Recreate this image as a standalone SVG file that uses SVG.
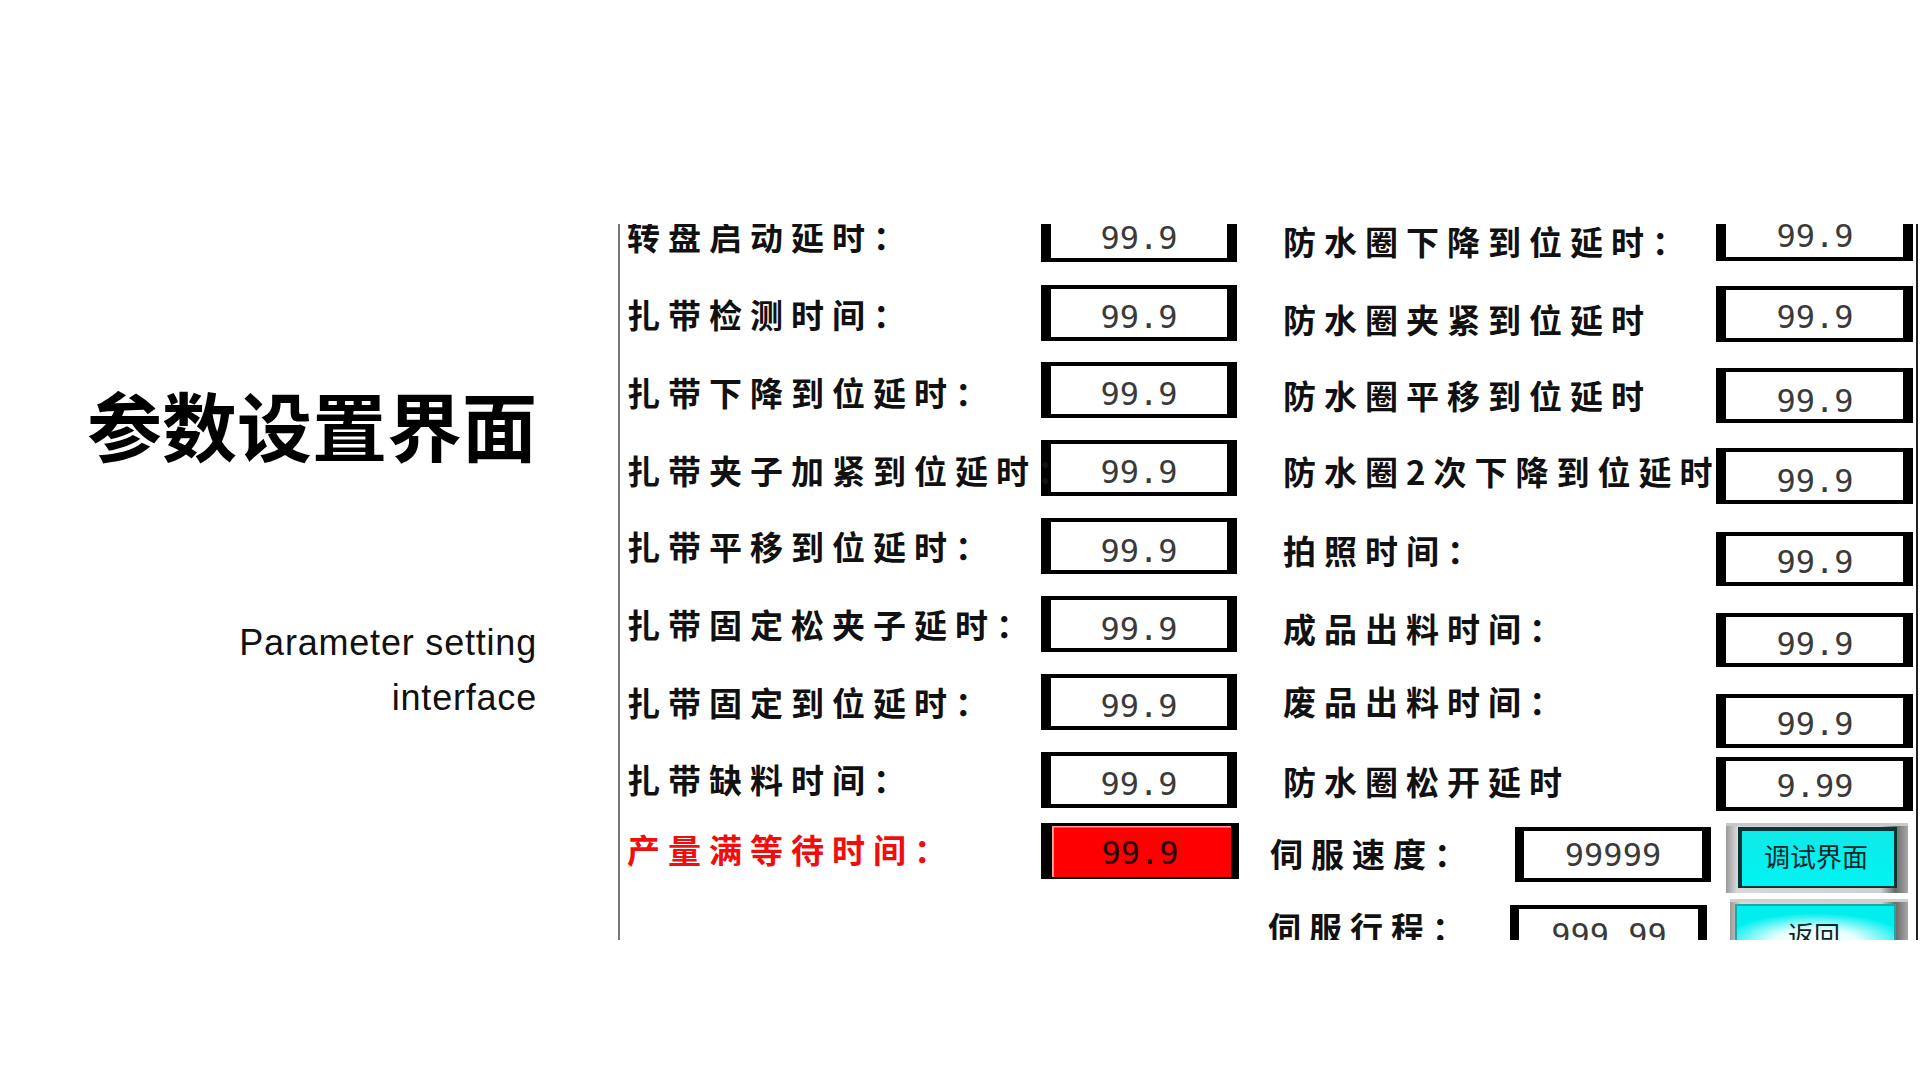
<svg xmlns="http://www.w3.org/2000/svg" width="1920" height="1080" viewBox="0 0 1920 1080">
<style>
.title{font-family:"Noto Sans CJK SC","Noto Sans",sans-serif;font-weight:700;font-size:75px;fill:#000}
.sub{font-family:"Liberation Sans",Arial,sans-serif;font-size:36px;letter-spacing:0.8px;fill:#111}
.lbl{font-family:"Noto Sans CJK SC","Noto Sans",sans-serif;font-weight:700;font-size:33px;letter-spacing:8px;fill:#111}
.red{fill:#f20d0d}
.num{font-family:"DejaVu Sans Mono","Liberation Mono",monospace;font-size:32px;fill:#3a3a3a;text-anchor:middle}
.bo{fill:#000}
.bi{fill:#fff}
.btn{font-family:"Noto Sans CJK SC","Noto Sans",sans-serif;font-size:26px;fill:#072626;text-anchor:middle}
</style>
<defs>
<clipPath id="shot"><rect x="619" y="224" width="1300" height="716"/></clipPath>
<linearGradient id="bevel" x1="0" y1="0" x2="1" y2="0">
<stop offset="0" stop-color="#9a9a9a"/>
<stop offset="0.06" stop-color="#d8d8d8"/>
<stop offset="0.85" stop-color="#d0d0d0"/>
<stop offset="0.93" stop-color="#6a6a6a"/>
<stop offset="1" stop-color="#a8a8a8"/>
</linearGradient>
<linearGradient id="cyan" x1="0" y1="0" x2="0" y2="1">
<stop offset="0" stop-color="#10e8e8"/>
<stop offset="1" stop-color="#00f4f4"/>
</linearGradient>
<radialGradient id="glow" cx="0.5" cy="0.75" r="0.6">
<stop offset="0" stop-color="#ffffff"/>
<stop offset="0.45" stop-color="#e8ffff"/>
<stop offset="1" stop-color="#00eeee"/>
</radialGradient>
</defs>
<rect width="1920" height="1080" fill="#fff"/>

<g id="title">
<text class="title" x="537" y="456" text-anchor="end">参数设置界面</text>
<text class="sub" x="537" y="655" text-anchor="end">Parameter setting</text>
<text class="sub" x="537" y="710" text-anchor="end">interface</text>
</g>

<g id="screen" clip-path="url(#shot)">
<g id="left-column">
<g id="l1"><text class="lbl" x="627" y="250">转盘启动延时：</text><rect class="bo" x="1041" y="206" width="196" height="56"/><rect class="bi" x="1051" y="210" width="176" height="48"/><text class="num" x="1139" y="249">99.9</text></g>
<g id="l2"><text class="lbl" x="627" y="328">扎带检测时间：</text><rect class="bo" x="1041" y="285" width="196" height="56"/><rect class="bi" x="1051" y="289" width="176" height="48"/><text class="num" x="1139" y="328">99.9</text></g>
<g id="l3"><text class="lbl" x="627" y="406">扎带下降到位延时：</text><rect class="bo" x="1041" y="362" width="196" height="56"/><rect class="bi" x="1051" y="366" width="176" height="48"/><text class="num" x="1139" y="405">99.9</text></g>
<g id="l4"><rect class="bo" x="1041" y="440" width="196" height="56"/><rect class="bi" x="1051" y="444" width="176" height="48"/><text class="lbl" x="627" y="484">扎带夹子加紧到位延时：</text><text class="num" x="1139" y="483">99.9</text></g>
<g id="l5"><text class="lbl" x="627" y="560">扎带平移到位延时：</text><rect class="bo" x="1041" y="518" width="196" height="56"/><rect class="bi" x="1051" y="522" width="176" height="48"/><text class="num" x="1139" y="562">99.9</text></g>
<g id="l6"><text class="lbl" x="627" y="638">扎带固定松夹子延时：</text><rect class="bo" x="1041" y="596" width="196" height="56"/><rect class="bi" x="1051" y="600" width="176" height="48"/><text class="num" x="1139" y="640">99.9</text></g>
<g id="l7"><text class="lbl" x="627" y="716">扎带固定到位延时：</text><rect class="bo" x="1041" y="674" width="196" height="56"/><rect class="bi" x="1051" y="678" width="176" height="48"/><text class="num" x="1139" y="717">99.9</text></g>
<g id="l8"><text class="lbl" x="627" y="793">扎带缺料时间：</text><rect class="bo" x="1041" y="752" width="196" height="56"/><rect class="bi" x="1051" y="756" width="176" height="48"/><text class="num" x="1139" y="795">99.9</text></g>
<g id="l9"><text class="lbl red" x="627" y="863">产量满等待时间：</text><rect class="bo" x="1041" y="823" width="198" height="56"/><rect x="1052" y="826" width="179" height="51" fill="#ff0000"/><rect x="1052" y="826" width="2" height="51" fill="#ff9a9a"/><rect x="1052" y="826" width="179" height="1.5" fill="#ff9a9a"/><text class="num" x="1140" y="864" style="fill:#200000">99.9</text></g>
</g>

<g id="right-column">
<g id="r1"><text class="lbl" x="1283" y="255">防水圈下降到位延时：</text><rect class="bo" x="1716" y="204" width="197" height="57"/><rect class="bi" x="1726" y="208" width="177" height="49"/><text class="num" x="1815" y="247">99.9</text></g>
<g id="r2"><text class="lbl" x="1283" y="333">防水圈夹紧到位延时</text><rect class="bo" x="1716" y="286" width="197" height="56"/><rect class="bi" x="1726" y="290" width="177" height="48"/><text class="num" x="1815" y="328">99.9</text></g>
<g id="r3"><text class="lbl" x="1283" y="409">防水圈平移到位延时</text><rect class="bo" x="1716" y="368" width="197" height="55"/><rect class="bi" x="1726" y="372" width="177" height="47"/><text class="num" x="1815" y="412">99.9</text></g>
<g id="r4"><text class="lbl" x="1283" y="485">防水圈2次下降到位延时</text><rect class="bo" x="1716" y="448" width="197" height="56"/><rect class="bi" x="1726" y="452" width="177" height="48"/><text class="num" x="1815" y="492">99.9</text></g>
<g id="r5"><text class="lbl" x="1283" y="564">拍照时间：</text><rect class="bo" x="1716" y="532" width="197" height="54"/><rect class="bi" x="1726" y="536" width="177" height="46"/><text class="num" x="1815" y="573">99.9</text></g>
<g id="r6"><text class="lbl" x="1283" y="642">成品出料时间：</text><rect class="bo" x="1716" y="613" width="197" height="54"/><rect class="bi" x="1726" y="617" width="177" height="46"/><text class="num" x="1815" y="655">99.9</text></g>
<g id="r7"><text class="lbl" x="1283" y="715">废品出料时间：</text><rect class="bo" x="1716" y="694" width="197" height="54"/><rect class="bi" x="1726" y="698" width="177" height="46"/><text class="num" x="1815" y="735">99.9</text></g>
<g id="r8"><text class="lbl" x="1283" y="795">防水圈松开延时</text><rect class="bo" x="1716" y="757" width="197" height="54"/><rect class="bi" x="1726" y="761" width="177" height="46"/><text class="num" x="1815" y="797">9.99</text></g>
<g id="r9"><text class="lbl" x="1270" y="867">伺服速度：</text><rect class="bo" x="1515" y="827" width="196" height="55"/><rect class="bi" x="1524" y="831" width="178" height="47"/><text class="num" x="1613" y="866">99999</text></g>
<g id="r10"><text class="lbl" x="1268" y="941">伺服行程：</text><rect class="bo" x="1510" y="905" width="197" height="60"/><rect class="bi" x="1519" y="909" width="179" height="52"/><text class="num" x="1609" y="946">999.99</text></g>
</g>

<g id="btn-debug">
<rect x="1726" y="823" width="182" height="70" fill="url(#bevel)"/>
<rect x="1726" y="823" width="182" height="3" fill="#c8c8c8"/>
<rect x="1738" y="827" width="159" height="61" fill="#0b3434"/>
<rect x="1742" y="831" width="152" height="55" fill="url(#cyan)"/>
<text class="btn" x="1816" y="867">调试界面</text>
</g>
<g id="btn-back">
<rect x="1730" y="899" width="178" height="60" fill="url(#bevel)"/>
<rect x="1730" y="899" width="178" height="3" fill="#d0d0d0"/>
<rect x="1735" y="904" width="161" height="50" fill="#1aa8a8"/>
<rect x="1737" y="906" width="157" height="48" fill="url(#glow)"/>
<text class="btn" x="1814" y="945">返回</text>
</g>
</g>

<g id="frame">
<line x1="619" y1="224" x2="619" y2="940" stroke="#777" stroke-width="2"/>
<line x1="1917" y1="224" x2="1917" y2="940" stroke="#222" stroke-width="2"/>
</g>
</svg>
